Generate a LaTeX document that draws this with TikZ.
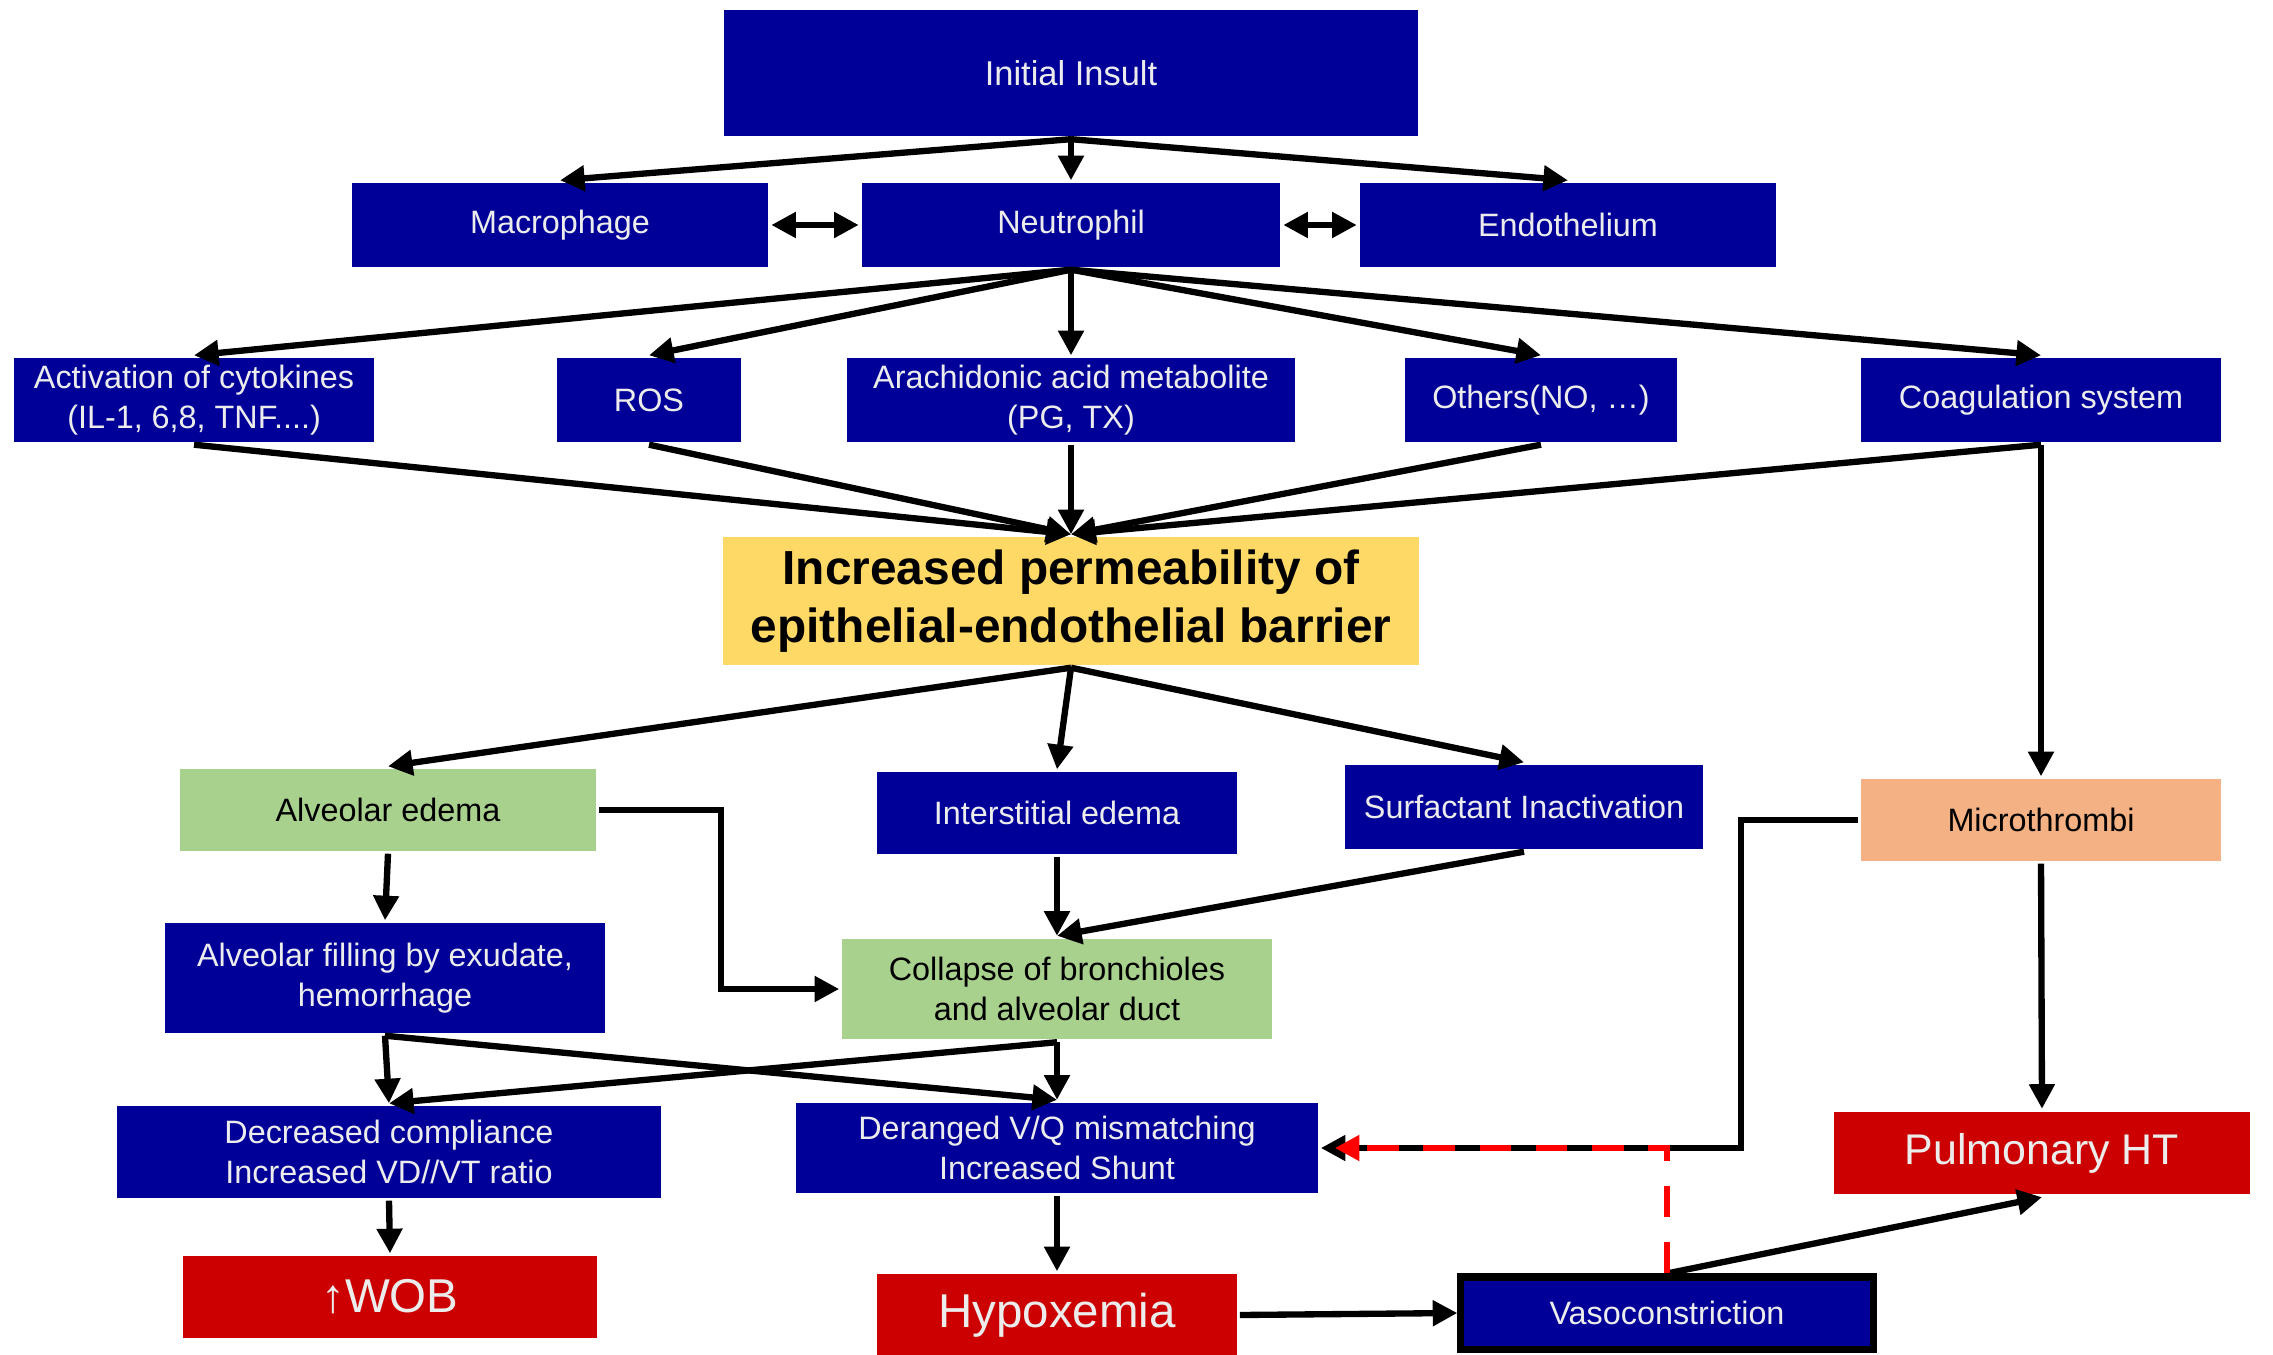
\documentclass[tikz,border=0pt]{standalone}
\usepackage{fontspec}
\setmainfont{Liberation Sans}
\usetikzlibrary{arrows.meta}
\definecolor{navy}{RGB}{0,0,153}
\definecolor{alarm}{RGB}{204,0,0}
\definecolor{butter}{RGB}{255,217,102}
\definecolor{leaf}{RGB}{169,209,142}
\definecolor{peach}{RGB}{244,177,131}
\definecolor{paper}{RGB}{236,236,236}
\begin{document}
\begin{tikzpicture}[x=0.01cm,y=-0.01cm,line width=1.8pt,
	>={Triangle[length=7pt,width=7pt]},
	wh/.style 2 args={minimum width=#1,minimum height=#2},
	plainbox/.style={inner sep=0pt,align=center,font=\fontsize{9.2}{11.2}\selectfont},
	bluebox/.style={plainbox,fill=navy,text=paper},
	redbox/.style={plainbox,fill=alarm,text=paper,font=\fontsize{13.5}{16}\selectfont},
	greenbox/.style={plainbox,fill=leaf},
	peachbox/.style={plainbox,fill=peach}]
	\useasboundingbox (0,0) rectangle (2273,1355);

	\node[bluebox,wh={6.93cm}{1.26cm},font=\fontsize{9.8}{12}\selectfont] (initial) at (1071,73) {Initial Insult};
	\node[bluebox,wh={4.16cm}{0.83cm}] (macro) at (560,225) {Macrophage};
	\node[bluebox,wh={4.18cm}{0.83cm}] (neutro) at (1071,225) {Neutrophil};
	\node[bluebox,wh={4.16cm}{0.83cm}] (endo) at (1568,225) {Endothelium};

	\node[bluebox,wh={3.59cm}{0.83cm}] (cyto) at (194,400) {Activation of cytokines\\(IL-1, 6,8, TNF....)};
	\node[bluebox,wh={1.83cm}{0.83cm}] (ros) at (649,400) {ROS};
	\node[bluebox,wh={4.47cm}{0.83cm}] (arach) at (1071,400) {Arachidonic acid metabolite\\(PG, TX)};
	\node[bluebox,wh={2.72cm}{0.83cm}] (others) at (1541,400) {Others(NO, \dots)};
	\node[bluebox,wh={3.60cm}{0.83cm}] (coag) at (2041,400) {Coagulation system};

	\node[plainbox,fill=butter,wh={6.95cm}{1.27cm},font=\fontsize{13.6}{16.6}\selectfont\bfseries] (perm) at (1071,601) {Increased permeability of\\epithelial-endothelial barrier};

	\node[greenbox,wh={4.16cm}{0.81cm}] (alvedema) at (388,810) {Alveolar edema};
	\node[bluebox,wh={3.59cm}{0.81cm}] (intedema) at (1057,813) {Interstitial edema};
	\node[bluebox,wh={3.58cm}{0.83cm}] (surf) at (1524,807) {Surfactant Inactivation};
	\node[peachbox,wh={3.60cm}{0.81cm}] (micro) at (2041,820) {Microthrombi};

	\node[bluebox,wh={4.39cm}{1.09cm}] (alvfill) at (385,978) {Alveolar filling by exudate,\\hemorrhage};
	\node[greenbox,wh={4.29cm}{1.00cm}] (collapse) at (1057,989) {Collapse of bronchioles\\and alveolar duct};

	\node[bluebox,wh={5.44cm}{0.91cm}] (compl) at (389,1152) {Decreased compliance\\Increased VD//VT ratio};
	\node[bluebox,wh={5.21cm}{0.90cm}] (vq) at (1057,1148) {Deranged V/Q mismatching\\Increased Shunt};
	\node[redbox,wh={4.16cm}{0.82cm},font=\fontsize{12.2}{14}\selectfont] (pht) at (2042,1153) {Pulmonary HT};

	\node[redbox,wh={4.14cm}{0.81cm}] (wob) at (390,1297) {↑WOB};
	\node[redbox,wh={3.59cm}{0.81cm}] (hypox) at (1057,1315) {Hypoxemia};
	\node[bluebox,draw=black,line width=2pt,wh={4.12cm}{0.72cm}] (vaso) at (1667,1313) {Vasoconstriction};

	\draw[->] (initial.south) -- (macro.north);
	\draw[->] (initial.south) -- (neutro.north);
	\draw[->] (initial.south) -- (endo.north);
	\draw[<->] (macro.east) -- (neutro.west);
	\draw[<->] (neutro.east) -- (endo.west);

	\draw[->] (neutro.south) -- (cyto.north);
	\draw[->] (neutro.south) -- (ros.north);
	\draw[->] (neutro.south) -- (arach.north);
	\draw[->] (neutro.south) -- (others.north);
	\draw[->] (neutro.south) -- (coag.north);

	\draw[->] (cyto.south) -- (perm.north);
	\draw[->] (ros.south) -- (perm.north);
	\draw[->] (arach.south) -- (perm.north);
	\draw[->] (others.south) -- (perm.north);
	\draw[->] (coag.south) -- (perm.north);
	\draw[->] (coag.south) -- (micro.north);

	\draw[->] (perm.south) -- (alvedema.north);
	\draw[->] (perm.south) -- (intedema.north);
	\draw[->] (perm.south) -- (surf.north);

	\draw[->] (alvedema.south) -- (alvfill.north);
	\draw[->] (alvedema.east) -- ++(122,0) |- (collapse.west);
	\draw[->] (intedema.south) -- (collapse.north);
	\draw[->] (surf.south) -- (collapse.north);

	\draw[->] (alvfill.south) -- (compl.north);
	\draw[->] (alvfill.south) -- (vq.north);
	\draw[->] (collapse.south) -- (compl.north);
	\draw[->] (collapse.south) -- (vq.north);
	\draw[->] (compl.south) -- (wob.north);
	\draw[->] (vq.south) -- (hypox.north);
	\draw[->] (hypox.east) -- (vaso.west);

	\draw[->] (micro.west) -- ++(-117,0) |- (vq.east);
	\draw[->] (micro.south) -- (pht.north);
	\draw[->] (vaso.north) -- (pht.south);
	\draw[->,red,dash pattern=on 9pt off 7pt,shorten >=0.14cm] (vaso.north) |- (vq.east);
\end{tikzpicture}
\end{document}
